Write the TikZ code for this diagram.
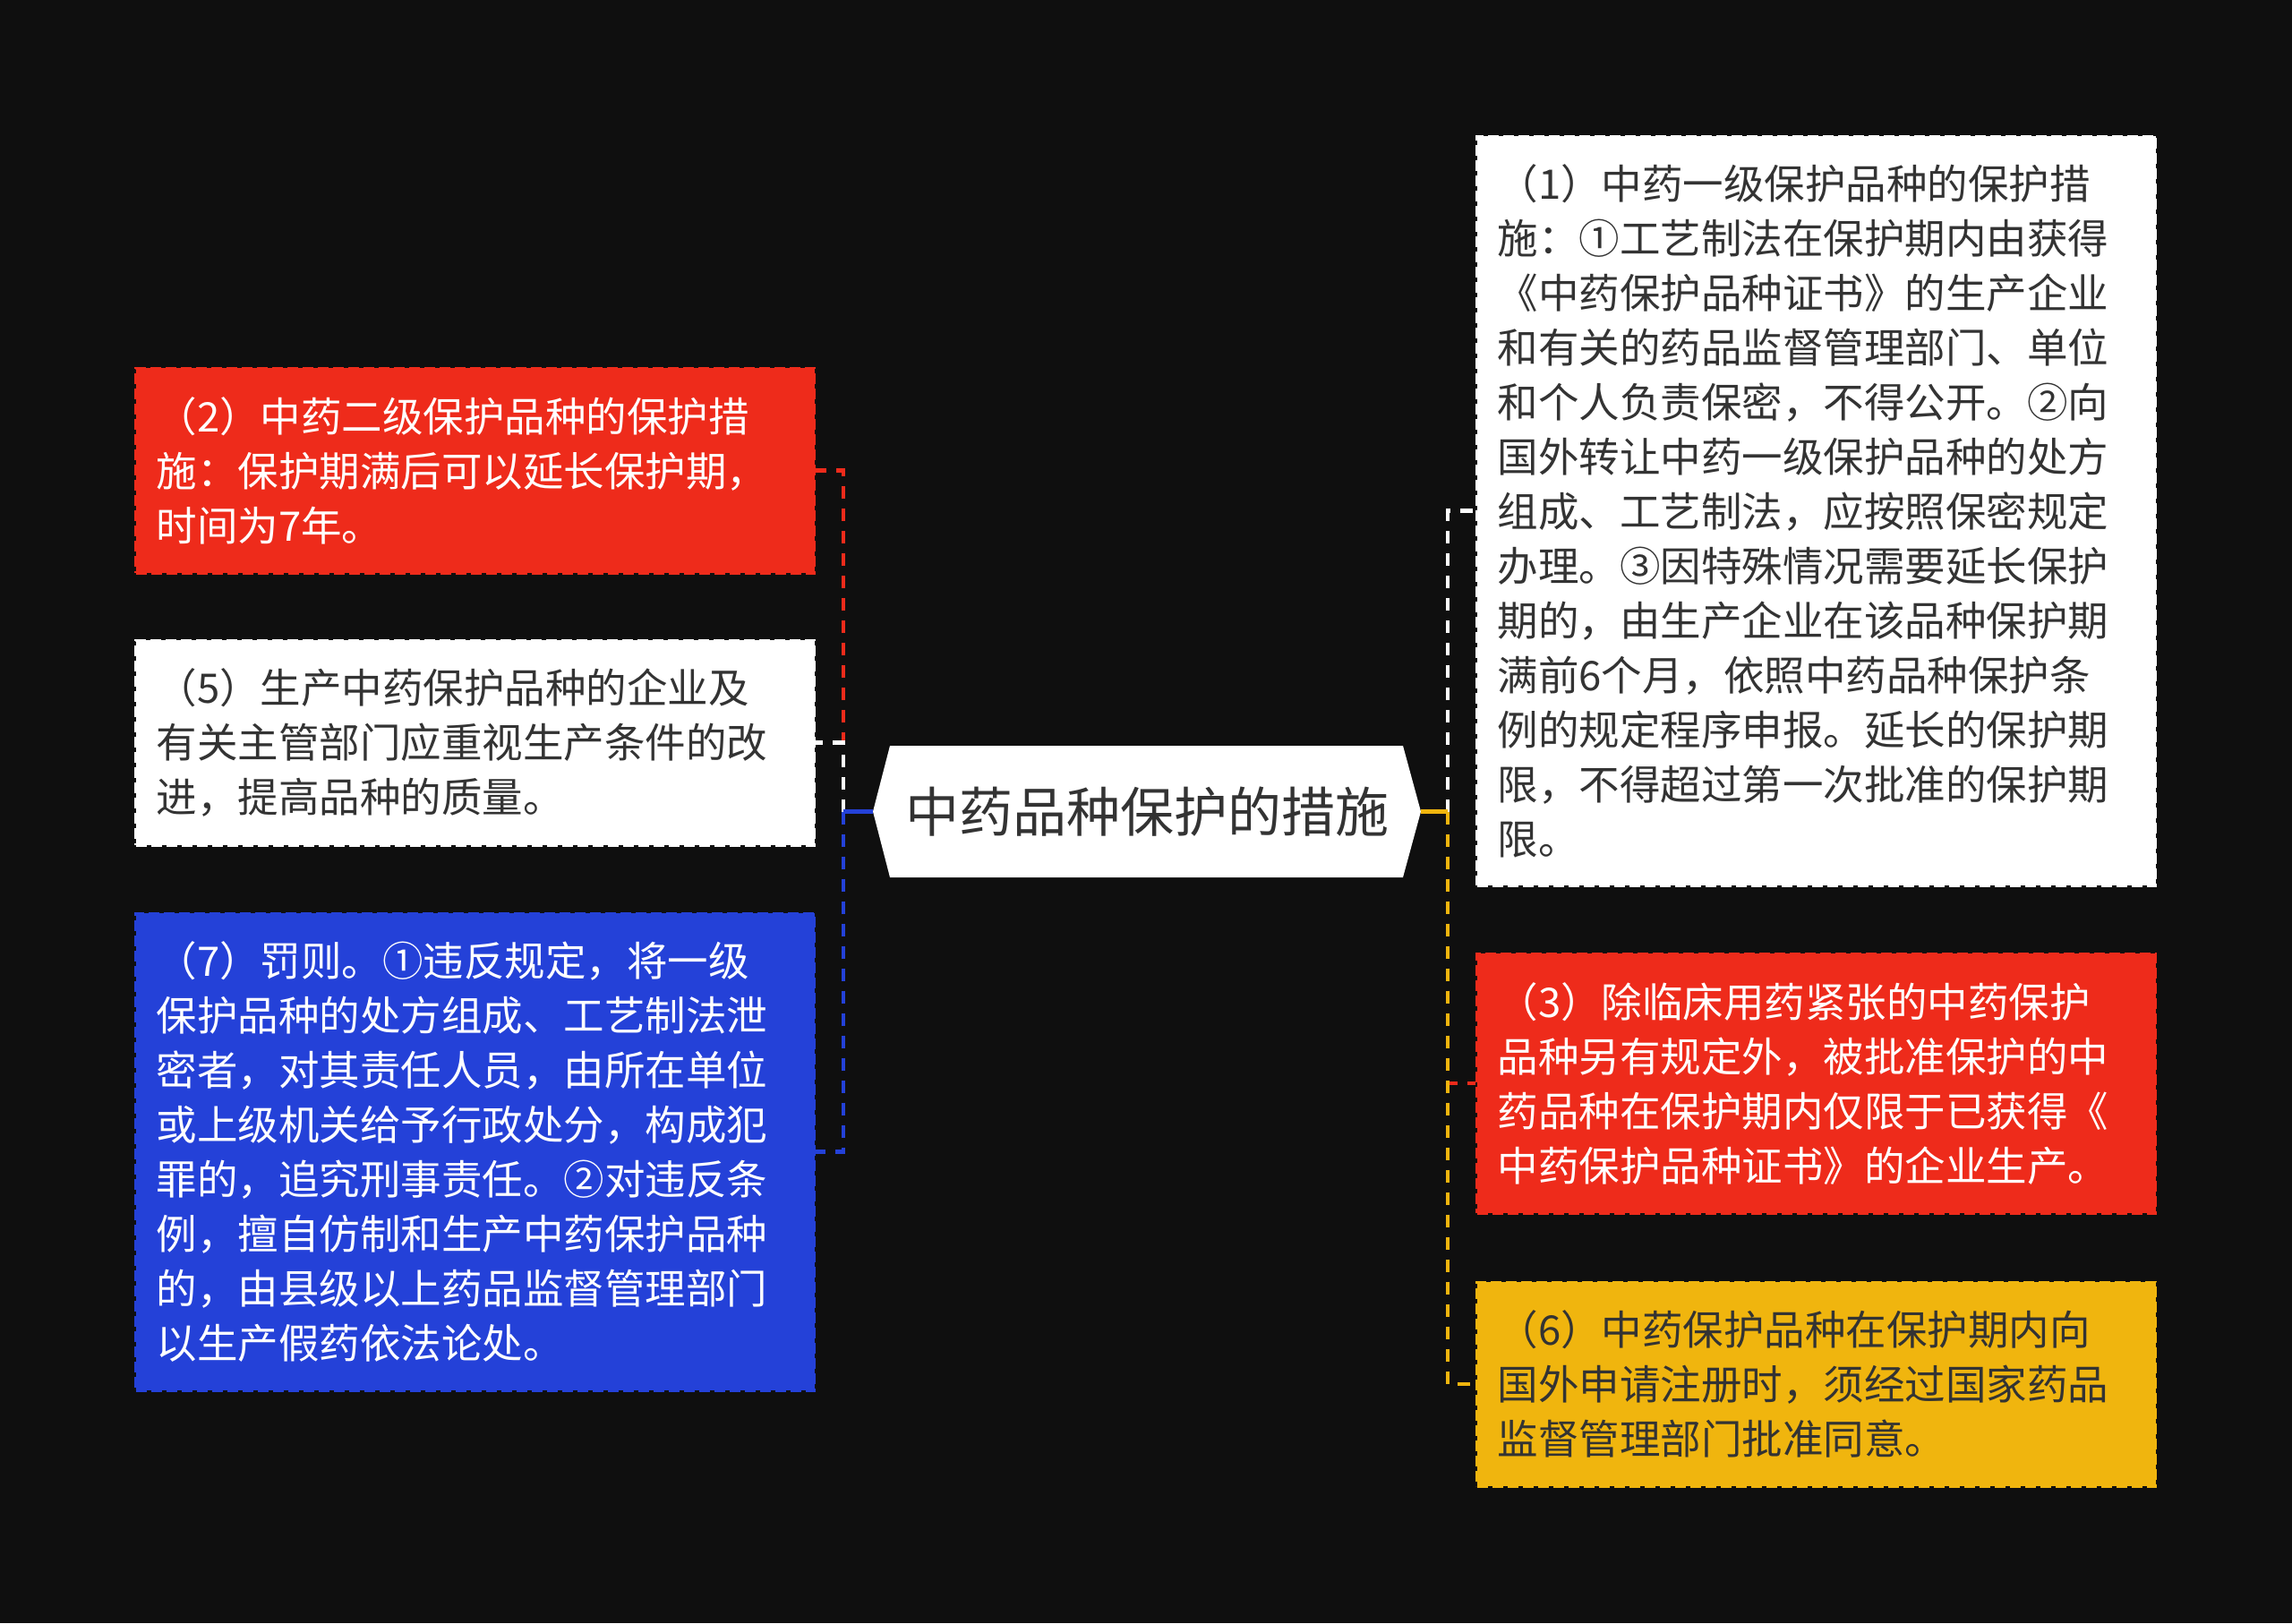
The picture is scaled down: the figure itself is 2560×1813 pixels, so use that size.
\documentclass[tikz,border=0pt]{standalone}
\usepackage{fontspec}
\setmainfont{Noto Sans CJK SC}
\definecolor{bg}{HTML}{0F0F0F}
\definecolor{mred}{HTML}{EE2B1B}
\definecolor{mblue}{HTML}{2441D8}
\definecolor{myel}{HTML}{F0B50E}
\definecolor{mtxt}{HTML}{333333}
\begin{document}
\begin{tikzpicture}[x=1pt,y=-1pt,
  leaf/.style={rectangle, minimum width=758pt, inner xsep=23pt, inner ysep=0pt,
    text width=712pt, align=left, font=\fontsize{45.5pt}{61pt}\selectfont,
    dash pattern=on 12pt off 5pt, line width=3pt},
  redleaf/.style={leaf, fill=mred, draw=mred, text=white},
  whiteleaf/.style={leaf, fill=white, draw=white, text=mtxt},
  blueleaf/.style={leaf, fill=mblue, draw=mblue, text=white},
  yelleaf/.style={leaf, fill=myel, draw=myel, text=mtxt},
  edge/.style={line width=4.5pt, dash pattern=on 14pt off 11pt},
  stub/.style={line width=4.5pt},
  rootbox/.style={inner sep=0pt, minimum width=612pt, minimum height=147pt,
    font=\fontsize{60pt}{70pt}\selectfont, text=mtxt}
]
\fill[bg] (0,0) rectangle (2560,1813);
\useasboundingbox (0,0) rectangle (2560,1813);

% root
\fill[white] (975,906.5) -- (994,833) -- (1567,833) -- (1587,906.5) -- (1567,980) -- (994,980) -- cycle;
\node[rootbox] (c) at (1281,906.5) {中药品种保护的措施};

% left leaves
\node[redleaf, minimum height=229pt] (n2) at (530.5,525.5) {（2）中药二级保护品种的保护措\\施：保护期满后可以延长保护期，\\时间为7年。};
\node[whiteleaf, minimum height=229pt] (n5) at (530.5,829.5) {（5）生产中药保护品种的企业及\\有关主管部门应重视生产条件的改\\进，提高品种的质量。};
\node[blueleaf, minimum height=533pt] (n7) at (530.5,1286.5) {（7）罚则。①违反规定，将一级\\保护品种的处方组成、工艺制法泄\\密者，对其责任人员，由所在单位\\或上级机关给予行政处分，构成犯\\罪的，追究刑事责任。②对违反条\\例，擅自仿制和生产中药保护品种\\的，由县级以上药品监督管理部门\\以生产假药依法论处。};

% right leaves
\node[whiteleaf, minimum height=837pt] (n1) at (2028.5,570.5) {（1）中药一级保护品种的保护措\\施：①工艺制法在保护期内由获得\\《中药保护品种证书》的生产企业\\和有关的药品监督管理部门、单位\\和个人负责保密，不得公开。②向\\国外转让中药一级保护品种的处方\\组成、工艺制法，应按照保密规定\\办理。③因特殊情况需要延长保护\\期的，由生产企业在该品种保护期\\满前6个月，依照中药品种保护条\\例的规定程序申报。延长的保护期\\限，不得超过第一次批准的保护期\\限。};
\node[redleaf, minimum height=290pt] (n3) at (2028.5,1210) {（3）除临床用药紧张的中药保护\\品种另有规定外，被批准保护的中\\药品种在保护期内仅限于已获得《\\中药保护品种证书》的企业生产。};
\node[yelleaf, minimum height=228pt] (n6) at (2028.5,1546) {（6）中药保护品种在保护期内向\\国外申请注册时，须经过国家药品\\监督管理部门批准同意。};

% buses
\coordinate (bl) at (942,906.5);
\coordinate (br) at (1617,906.5);

% left connectors
\draw[edge, mred] (bl) |- (n2.east);
\draw[edge, white] (bl) |- (n5.east);
\draw[edge, mblue] (bl) |- (n7.east);
\draw[stub, mblue] (c.west) -- (bl);

% right connectors
\draw[edge, white] (br) |- (n1.west);
\draw[edge, mred] (br) |- (n3.west);
\draw[edge, myel] (br) |- (n6.west);
\draw[stub, myel] (c.east) -- (br);
\end{tikzpicture}
\end{document}
